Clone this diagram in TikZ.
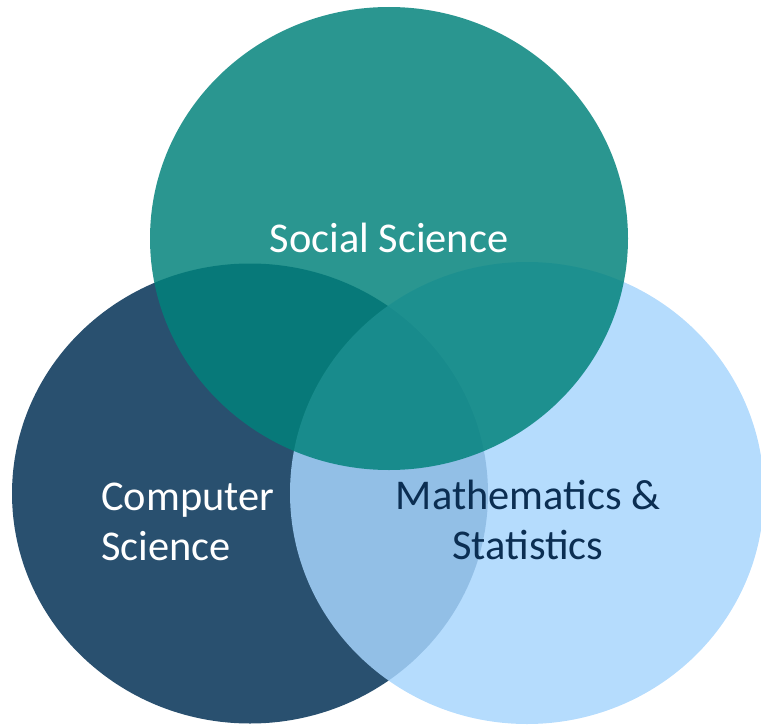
\documentclass[tikz,border=0pt]{standalone}
\usepackage{fontspec}
\setmainfont{Carlito}
\definecolor{socteal}{RGB}{1, 130, 123}
\definecolor{compblue}{RGB}{41, 80, 111}
\definecolor{mathblue}{RGB}{167, 213, 253}
\definecolor{mathtext}{RGB}{11, 46, 82}
\usetikzlibrary{positioning}

\begin{document}
\begin{tikzpicture}[x=1pt, y=-1pt,
  venn/.style={fill opacity=0.84},
  vennlabel/.style={inner sep=0pt, font=\fontsize{42.4}{50}\selectfont}]
  \useasboundingbox (0, 0) rectangle (761, 725);

  % Circles
  \fill[compblue] (250, 493.5) ellipse [x radius=238pt, y radius=230pt];
  \fill[mathblue, venn] (527, 493) ellipse [x radius=237pt, y radius=231pt];
  \fill[socteal, venn] (389, 238.5) ellipse [x radius=239pt, y radius=231.5pt];

  % Labels
  \node[vennlabel, text=white, anchor=base] (social) at (389, 252) {Social Science};
  \node[vennlabel, text=white, align=left, anchor=west] (comp) at (101, 521.5) {Computer\\Science};
  \node[vennlabel, text=mathtext, align=center] (math) at (528, 519.5) {Mathematics \&\\Statistics};
\end{tikzpicture}
\end{document}
